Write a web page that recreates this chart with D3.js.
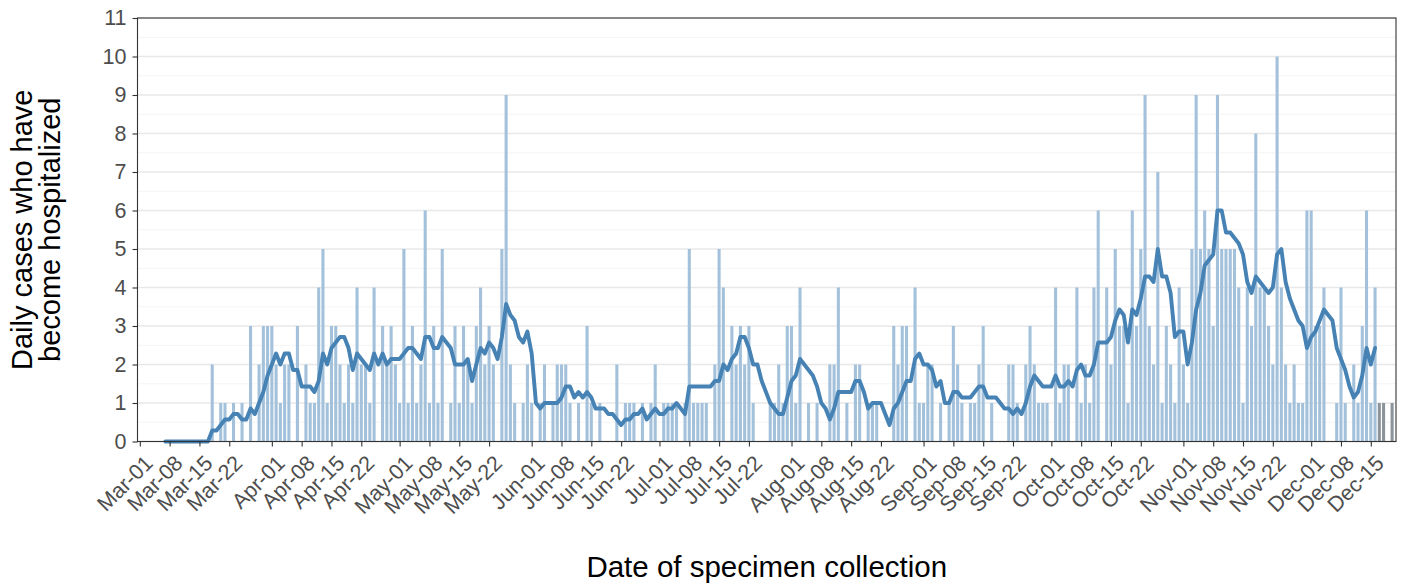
<!DOCTYPE html>
<html><head><meta charset="utf-8">
<script src="https://cdn.jsdelivr.net/npm/d3@7"></script>
<style>
body{margin:0;background:#fff;}
svg{display:block;font-family:"Liberation Sans",Arial,sans-serif;}
</style>
</head><body>
<svg id="chart" width="1405" height="585"></svg>
<script>
// ---- data (daily counts, 2020) ----
const marCases = [0,0,0,0,0,0,0,0,0,0, 0,0,0,0,0,0,0,2,0,1, 1,0,1,0,1,0,3,0,2,3, 3];
const aprCases = [3,2,1,2,2,0,3,0,2,1, 1,4,5,1,3,3,2,1,2,1, 4,2,2,1,4,0,3,2,3,2];
const mayCases = [1,5,1,3,1,2,6,1,3,1, 5,0,1,3,1,3,2,1,3,4, 2,3,2,0,5,9,2,1,0,1, 2];
const junCases = [1,0,1,2,0,1,2,2,2,1, 0,1,0,3,1,0,1,0,0,0, 2,0,1,1,1,0,1,0,1,2];
const julCases = [0,1,1,1,1,0,1,5,1,1, 1,1,0,2,5,4,0,3,2,3, 2,3,1,0,0,0,1,1,2,1, 3];
const augCases = [3,1,4,0,1,0,1,0,0,2, 2,4,0,1,0,2,2,0,1,1, 1,0,0,0,3,2,3,3,0,4, 1];
const sepCases = [1,2,2,0,1,0,1,3,2,1, 0,1,1,2,3,0,1,0,0,0, 2,2,1,0,2,3,2,1,1,1];
const octCases = [0,4,1,2,2,0,4,1,2,1, 4,6,0,4,2,5,3,3,1,6, 3,5,9,3,2,7,1,3,2,1, 4];
const novCases = [2,1,5,9,5,6,5,3,9,5, 5,5,5,4,1,4,3,8,4,4, 3,2,10,4,2,1,2,1,1,6];
const decCases = [6,3,3,4,0,0,1,4,1,0, 2,1,3,6,1,4,1,1,0,1];
const firstDate = "2020-03-01";
const firstPreliminaryDate = "2020-12-17";   // grey bars from this day on
const xTickLabels = ["Mar-01","Mar-08","Mar-15","Mar-22","Apr-01","Apr-08","Apr-15","Apr-22",
  "May-01","May-08","May-15","May-22","Jun-01","Jun-08","Jun-15","Jun-22",
  "Jul-01","Jul-08","Jul-15","Jul-22","Aug-01","Aug-08","Aug-15","Aug-22",
  "Sep-01","Sep-08","Sep-15","Sep-22","Oct-01","Oct-08","Oct-15","Oct-22",
  "Nov-01","Nov-08","Nov-15","Nov-22","Dec-01","Dec-08","Dec-15"];
const yTickValues = [0,1,2,3,4,5,6,7,8,9,10,11];
const xTitle = "Date of specimen collection";
const yTitleLines = ["Daily cases who have","become hospitalized"];

// ---- build table ----
const parse = d3.utcParse("%Y-%m-%d");
const start = parse(firstDate);
const prelimStart = parse(firstPreliminaryDate);
const counts = [].concat(marCases,aprCases,mayCases,junCases,julCases,augCases,sepCases,octCases,novCases,decCases);
const rows = counts.map((v,i)=>({date:d3.utcDay.offset(start,i), value:v}));
// 7-day trailing average of the daily counts (complete days only)
const avgRows = [];
rows.forEach((r,i)=>{
  if(i<6 || r.date>=prelimStart) return;
  avgRows.push({date:r.date, value:d3.mean(rows.slice(i-6,i+1),d=>d.value)});
});
const tickFmtParse = d3.utcParse("%Y-%b-%d");
const tickDates = xTickLabels.map(s=>tickFmtParse("2020-"+s));

// ---- layout ----
const L=137.5, R=1396, T=18, B=441.5;
const svg = d3.select("#chart");
const x = d3.scaleUtc()
  .domain([d3.utcHour.offset(start,-12.5), d3.utcHour.offset(start,Math.round(294.9*24))])
  .range([L,R]);
const y = d3.scaleLinear().domain([0,11]).range([B,T]);
const dayW = x(d3.utcDay.offset(start,1))-x(start);
const barW = dayW*0.72;

// grid
const minor = d3.range(0.5,11,1);
svg.append("g").selectAll("line").data(minor).join("line")
  .attr("x1",L).attr("x2",R).attr("y1",d=>y(d)).attr("y2",d=>y(d))
  .attr("stroke","#f1f1f1").attr("stroke-width",0.8);
svg.append("g").selectAll("line").data(yTickValues).join("line")
  .attr("x1",L).attr("x2",R).attr("y1",d=>y(d)).attr("y2",d=>y(d))
  .attr("stroke","#e8e8e8").attr("stroke-width",1.3);

// bars
svg.append("g").selectAll("rect").data(rows.filter(d=>d.value>0)).join("rect")
  .attr("x",d=>x(d.date)-barW/2).attr("width",barW)
  .attr("y",d=>y(d.value)).attr("height",d=>y(0)-y(d.value))
  .attr("fill",d=>d.date>=prelimStart?"#8c949b":"#a3c1db");

// line
svg.append("path").datum(avgRows)
  .attr("fill","none").attr("stroke","#4682b4").attr("stroke-width",3.9)
  .attr("stroke-linejoin","round").attr("stroke-linecap","round")
  .attr("d",d3.line().x(d=>x(d.date)).y(d=>y(d.value)));

// panel border
svg.append("rect").attr("x",L).attr("y",T).attr("width",R-L).attr("height",B-T)
  .attr("fill","none").attr("stroke","#333").attr("stroke-width",1.1);

// axes
const fmt = d3.utcFormat("%b-%d");
const xa = svg.append("g").attr("transform",`translate(0,${B})`)
  .call(d3.axisBottom(x).tickValues(tickDates).tickFormat(fmt).tickSize(5).tickPadding(0));
xa.select(".domain").remove();
xa.selectAll(".tick line").attr("stroke","#333").attr("stroke-width",1.1);
xa.selectAll(".tick text")
  .attr("fill","#4d4d4d").attr("font-size",21.5).attr("font-family","Liberation Sans, Arial, sans-serif")
  .attr("text-anchor","end").attr("x",0).attr("y",0).attr("dy","0.72em")
  .attr("transform","translate(3,12) rotate(-45)");

const ya = svg.append("g").attr("transform",`translate(${L},0)`)
  .call(d3.axisLeft(y).tickValues(yTickValues).tickFormat(d3.format("d")).tickSize(5).tickPadding(6));
ya.select(".domain").remove();
ya.selectAll(".tick line").attr("stroke","#333").attr("stroke-width",1.1);
ya.selectAll(".tick text").attr("fill","#4d4d4d").attr("font-size",21.5)
  .attr("font-family","Liberation Sans, Arial, sans-serif");

// titles
svg.append("text").attr("x",(L+R)/2).attr("y",577).attr("text-anchor","middle")
  .attr("font-size",29.5).attr("fill","#000").text(xTitle);
const yt = svg.append("text").attr("transform",`translate(36,${(T+B)/2}) rotate(-90)`)
  .attr("text-anchor","middle").attr("font-size",29).attr("fill","#000");
yTitleLines.forEach((t,i)=>yt.append("tspan").attr("x",0).attr("dy",i===0?"-0.15em":"0.98em").text(t));
</script>
</body></html>
